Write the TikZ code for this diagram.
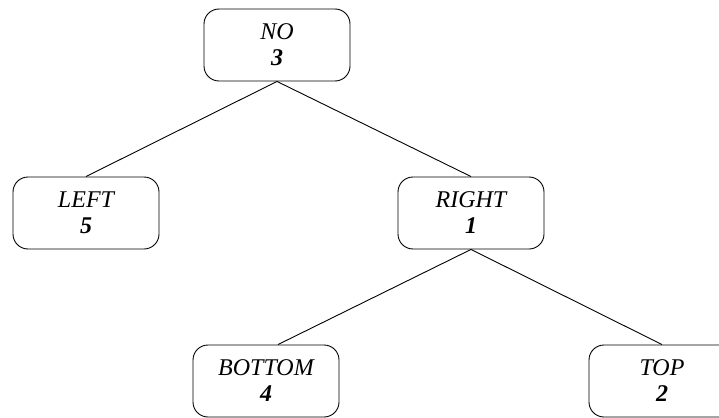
\documentclass[tikz,border=0pt]{standalone}
\usepackage{fontspec}
\setmainfont{Liberation Serif}

\begin{document}
\begin{tikzpicture}[x=1pt, y=-1pt,
    statebox/.style={rectangle, draw, line width=0.9pt, rounded corners=15pt, minimum width=146pt, minimum height=72pt,
        align=center, font=\fontsize{24}{26}\selectfont\itshape, inner sep=0pt}]
                \useasboundingbox (0,0) rectangle (719,417);
                % root
                \node[statebox] (no) at (277,45) {NO\\\textbf{3}};

                % first level
                \node[statebox] (left) at (86,213) {LEFT\\\textbf{5}};
                \node[statebox] (right) at (471,213) {RIGHT\\\textbf{1}};

                % second level
                \node[statebox] (bottom) at (266,381) {BOTTOM\\\textbf{4}};
                \node[statebox] (top) at (662,381) {TOP\\\textbf{2}};

                \draw[line width=0.9pt] (no.south) -- (left.north);
                \draw[line width=0.9pt] (no.south) -- (right.north);
                \draw[line width=0.9pt] (right.south) -- ([xshift=12pt]bottom.north);
                \draw[line width=0.9pt] (right.south) -- (top.north);
            \end{tikzpicture}
\end{document}
